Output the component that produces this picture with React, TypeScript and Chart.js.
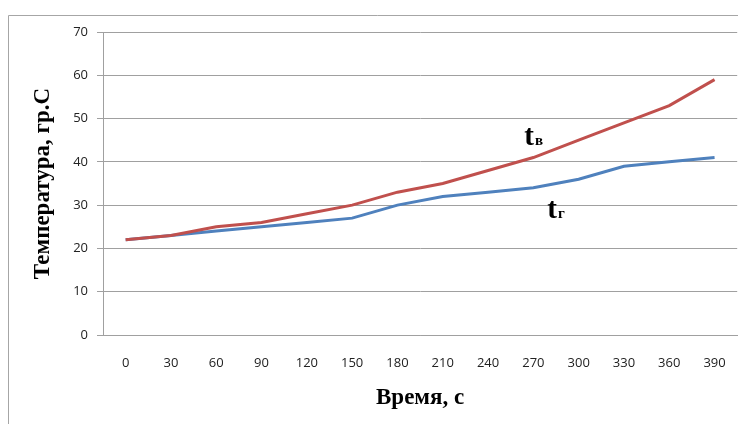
import React, { useEffect, useRef } from "react";
import { Chart, registerables } from "chart.js";

Chart.register(...registerables);

const timeLabels = ["0", "30", "60", "90", "120", "150", "180", "210", "240", "270", "300", "330", "360", "390"];
const tB = [22, 23, 25, 26, 28, 30, 33, 35, 38, 41, 45, 49, 53, 59];
const tG = [22, 23, 24, 25, 26, 27, 30, 32, 33, 34, 36, 39, 40, 41];
const yTicks = [0, 10, 20, 30, 40, 50, 60, 70];
const xTitle = "Время, с";
const yTitle = "Температура, гр.С";
// annotation labels: main letter, subscript, anchor category index and value
const annoB = { main: "t", sub: "в", index: 9, value: 44 };
const annoG = { main: "t", sub: "г", index: 9, value: 27 };

const frameAndLabels = {
  id: "frameAndLabels",
  afterDraw(chart: any) {
    const ctx = chart.ctx;
    const { width, height } = chart;
    ctx.save();
    ctx.strokeStyle = "#a6a6a6";
    ctx.lineWidth = 1;
    ctx.beginPath();
    ctx.moveTo(0.5, height);
    ctx.lineTo(0.5, 7.5);
    ctx.lineTo(width, 7.5);
    ctx.stroke();

    const xs = chart.scales.x;
    const ys = chart.scales.y;
    const drawAnno = (a: any, dx: number) => {
      const px = xs.getPixelForValue(a.index) + dx;
      const py = ys.getPixelForValue(a.value);
      ctx.fillStyle = "#000";
      ctx.textBaseline = "alphabetic";
      ctx.textAlign = "left";
      ctx.font = "bold 29px 'Liberation Serif', serif";
      ctx.fillText(a.main, px, py);
      const w = ctx.measureText(a.main).width;
      ctx.font = "bold 15px 'Liberation Serif', serif";
      ctx.fillText(a.sub, px + w + 1, py);
    };
    drawAnno(annoB, -9);
    drawAnno(annoG, 14);
    ctx.restore();
  },
};

export default function App() {
  const ref = useRef<HTMLCanvasElement>(null);
  useEffect(() => {
    if (!ref.current) return;
    const chart = new Chart(ref.current, {
      type: "line",
      data: {
        labels: timeLabels,
        datasets: [
          {
            label: "tв",
            data: tB,
            borderColor: "#c0504d",
            backgroundColor: "#c0504d",
            borderWidth: 3,
            pointRadius: 0,
            tension: 0,
          },
          {
            label: "tг",
            data: tG,
            borderColor: "#4f81bd",
            backgroundColor: "#4f81bd",
            borderWidth: 3,
            pointRadius: 0,
            tension: 0,
          },
        ],
      },
      options: {
        animation: false,
        responsive: false,
        layout: { padding: { top: 24, right: 8, left: 0, bottom: 0 } },
        plugins: {
          legend: { display: false },
          tooltip: { enabled: false },
        },
        scales: {
          x: {
            type: "category",
            offset: true,
            grid: { display: false, drawTicks: false },
            border: { display: true, color: "#a0a0a0", width: 1 },
            ticks: {
              padding: 20,
              maxRotation: 0,
              autoSkip: false,
              color: "#222",
              font: { family: "'Open Sans', sans-serif", size: 13 },
            },
            title: {
              display: true,
              text: xTitle,
              color: "#000",
              font: { family: "'Liberation Serif', serif", size: 23, weight: "bold" },
              padding: { top: 0, bottom: 12 },
            },
            afterFit(scale: any) {
              scale.height = 89;
            },
          },
          y: {
            min: 0,
            max: 70,
            afterBuildTicks(scale: any) {
              scale.ticks = yTicks.map((v) => ({ value: v }));
            },
            grid: { color: "#a0a0a0", lineWidth: 1, tickLength: 6, drawTicks: true },
            border: { display: true, color: "#a0a0a0", width: 1 },
            ticks: {
              padding: 9,
              color: "#222",
              font: { family: "'Open Sans', sans-serif", size: 13 },
            },
            title: {
              display: true,
              text: yTitle,
              color: "#000",
              font: { family: "'Liberation Serif', serif", size: 23, weight: "bold" },
              padding: { top: 21, bottom: 0 },
            },
            afterFit(scale: any) {
              scale.width = 95;
            },
          },
        },
      },
      plugins: [frameAndLabels],
    } as any);
    return () => chart.destroy();
  }, []);
  return <canvas ref={ref} width={738} height={416} style={{ display: "block" }} />;
}
